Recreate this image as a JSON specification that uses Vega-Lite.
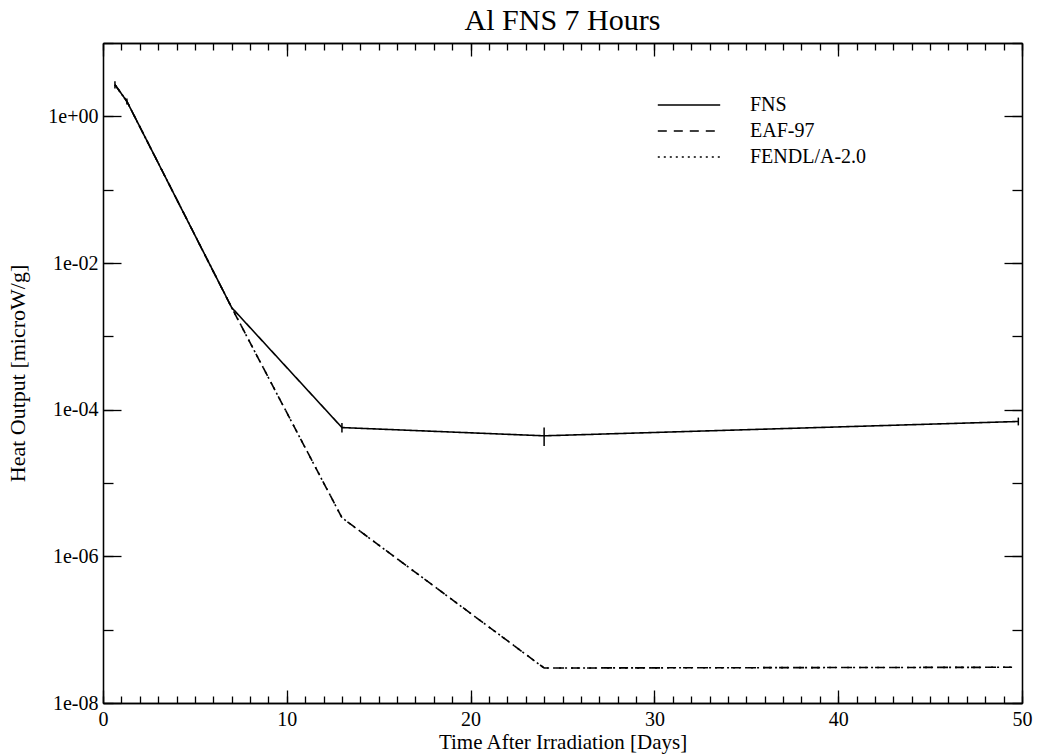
{
  "$schema": "https://vega.github.io/schema/vega-lite/v6.json",
  "autosize": "none",
  "padding": {"left": 103, "top": 43, "right": 23, "bottom": 52},
  "width": 919,
  "height": 660,
  "background": "white",
  "config": {
    "view": {"stroke": null},
    "font": "Liberation Serif",
    "axis": {"domainColor": "black", "tickColor": "black", "labelColor": "black", "titleColor": "black", "labelFont": "Liberation Serif", "titleFont": "Liberation Serif", "titleFontWeight": "normal", "grid": false, "labelOverlap": false, "labelBound": false, "labelFlush": false, "domainWidth": 1.3, "tickWidth": 1.3}
  },
  "title": {"text": "Al FNS 7 Hours", "font": "Liberation Serif", "fontSize": 30, "fontWeight": "normal", "color": "black", "anchor": "middle", "offset": -3},
  "data": {"values": [
    {"series": "FNS", "t": 0.65, "v": 2.7, "lo": 2.4, "hi": 3.0},
    {"series": "FNS", "t": 1.3, "v": 1.6, "lo": 1.45, "hi": 1.75},
    {"series": "FNS", "t": 7.0, "v": 0.00247},
    {"series": "FNS", "t": 13.0, "v": 0.000057, "lo": 0.000049, "hi": 0.000066},
    {"series": "FNS", "t": 24.0, "v": 0.000044, "lo": 0.000032, "hi": 0.000057},
    {"series": "FNS", "t": 49.8, "v": 0.000069, "lo": 0.000061, "hi": 0.000078},
    {"series": "EAF-97", "t": 0.65, "v": 2.7},
    {"series": "EAF-97", "t": 1.3, "v": 1.6},
    {"series": "EAF-97", "t": 7.0, "v": 0.00247},
    {"series": "EAF-97", "t": 13.0, "v": 0.00000336},
    {"series": "EAF-97", "t": 24.0, "v": 0.000000030},
    {"series": "EAF-97", "t": 49.6, "v": 0.0000000307},
    {"series": "FENDL/A-2.0", "t": 0.65, "v": 2.7},
    {"series": "FENDL/A-2.0", "t": 1.3, "v": 1.6},
    {"series": "FENDL/A-2.0", "t": 7.0, "v": 0.00247},
    {"series": "FENDL/A-2.0", "t": 13.0, "v": 0.00000336},
    {"series": "FENDL/A-2.0", "t": 24.0, "v": 0.000000030},
    {"series": "FENDL/A-2.0", "t": 49.6, "v": 0.0000000307}
  ]},
  "layer": [
    {
      "mark": {"type": "line", "color": "black", "strokeWidth": 1.6},
      "encoding": {
        "x": {"field": "t", "type": "quantitative", "scale": {"domain": [0, 50], "nice": false, "zero": false},
          "axis": {"orient": "bottom", "values": [0,1,2,3,4,5,6,7,8,9,10,11,12,13,14,15,16,17,18,19,20,21,22,23,24,25,26,27,28,29,30,31,32,33,34,35,36,37,38,39,40,41,42,43,44,45,46,47,48,49,50],
            "labelExpr": "datum.value % 10 === 0 ? format(datum.value, 'd') : ''",
            "tickSize": -7, "labelPadding": 13, "labelFontSize": 20, "title": "Time After Irradiation [Days]", "titleFontSize": 21, "titlePadding": 2}},
        "y": {"field": "v", "type": "quantitative", "scale": {"type": "log", "domain": [1e-8, 10], "nice": false},
          "axis": {"orient": "left", "values": [1e-8, 1e-7, 1e-6, 1e-5, 1e-4, 1e-3, 1e-2, 1e-1, 1, 10],
            "labelExpr": "round(log(datum.value)/LN10) % 2 !== 0 ? '' : '1e' + (datum.value < 1 ? '-' : '+') + pad(toString(abs(round(log(datum.value)/LN10))), 2, '0', 'left')",
            "tickSize": -10, "labelPadding": 15, "labelFontSize": 20, "title": "Heat Output [microW/g]", "titleFontSize": 22, "titlePadding": 18}},
        "strokeDash": {"field": "series", "type": "nominal",
          "scale": {"domain": ["FNS", "EAF-97", "FENDL/A-2.0"], "range": [[1, 0], [9, 7], [2, 4]]},
          "legend": {"title": null, "orient": "none", "legendX": 572, "legendY": 48, "padding": 0, "symbolType": "M-2.4,0H2.4", "symbolSize": 676, "symbolStrokeColor": "black", "symbolStrokeWidth": 1.6, "labelFont": "Liberation Serif", "labelFontSize": 20, "labelColor": "black", "labelOffset": 47, "rowPadding": 2}}
      }
    },
    {
      "transform": [{"filter": "datum.lo != null"}],
      "mark": {"type": "rule", "color": "black", "strokeWidth": 1.5},
      "encoding": {
        "x": {"field": "t", "type": "quantitative",
          "axis": {"orient": "top", "values": [0,1,2,3,4,5,6,7,8,9,10,11,12,13,14,15,16,17,18,19,20,21,22,23,24,25,26,27,28,29,30,31,32,33,34,35,36,37,38,39,40,41,42,43,44,45,46,47,48,49,50],
            "labels": false, "title": null, "tickSize": -7}},
        "y": {"field": "lo", "type": "quantitative",
          "axis": {"orient": "right", "values": [1e-8, 1e-7, 1e-6, 1e-5, 1e-4, 1e-3, 1e-2, 1e-1, 1, 10], "labels": false, "title": null, "tickSize": -10}},
        "y2": {"field": "hi"}
      }
    },
    {
      "transform": [{"filter": "datum.lo != null"}],
      "mark": {"type": "point", "opacity": 0},
      "encoding": {
        "x": {"field": "t", "type": "quantitative",
          "axis": {"orient": "bottom", "values": [0, 10, 20, 30, 40, 50], "labels": false, "title": null, "tickSize": -13}},
        "y": {"field": "v", "type": "quantitative",
          "axis": {"orient": "left", "values": [1e-8, 1e-6, 1e-4, 1e-2, 1], "labels": false, "title": null, "tickSize": -18}}
      }
    },
    {
      "transform": [{"filter": "datum.lo != null"}],
      "mark": {"type": "point", "opacity": 0},
      "encoding": {
        "x": {"field": "t", "type": "quantitative",
          "axis": {"orient": "top", "values": [0, 10, 20, 30, 40, 50], "labels": false, "title": null, "tickSize": -13}},
        "y": {"field": "v", "type": "quantitative",
          "axis": {"orient": "right", "values": [1e-8, 1e-6, 1e-4, 1e-2, 1], "labels": false, "title": null, "tickSize": -18}}
      }
    }
  ],
  "resolve": {"axis": {"x": "independent", "y": "independent"}}
}
